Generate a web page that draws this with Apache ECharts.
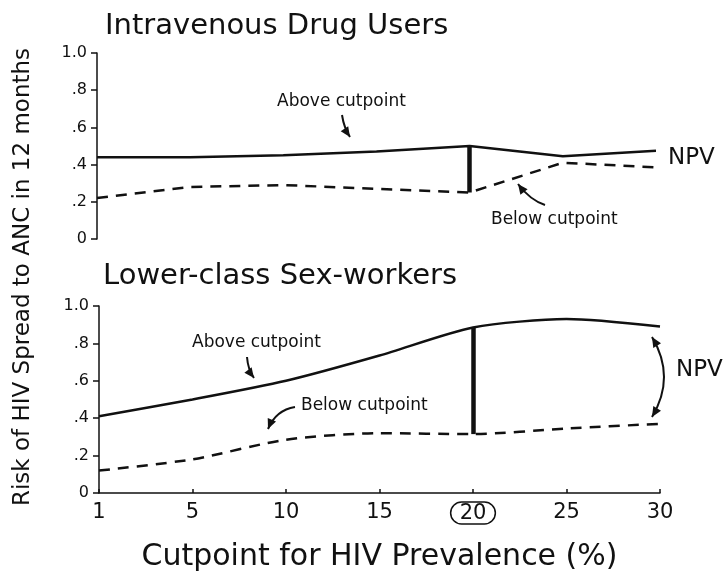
<!DOCTYPE html>
<html>
<head>
<meta charset="utf-8">
<script src="https://cdn.jsdelivr.net/npm/echarts@6/dist/echarts.min.js"></script>
<style>
  html, body { margin: 0; padding: 0; background: #fff; }
  #main { width: 727px; height: 575px; }
</style>
</head>
<body>
<div id="main"></div>
<script>
    // cutpoints for HIV prevalence (%)
    var categories = ['1', '5', '10', '15', '20', '25', '30'];
    var yTickLabels = ['0', '.2', '.4', '.6', '.8', '1.0'];
    var cutIndex = 4;

    // Intravenous Drug Users
    var iduAbove = [0.44, 0.44, 0.45, 0.47, 0.50, 0.445, 0.475];
    var iduBelow = [0.22, 0.28, 0.29, 0.27, 0.25, 0.41, 0.385];

    // Lower-class Sex-workers
    var swAbove = [0.41, 0.50, 0.60, 0.735, 0.885, 0.93, 0.89];
    var swBelow = [0.12, 0.18, 0.285, 0.32, 0.315, 0.345, 0.37];

    var FONT = '"DejaVu Sans", "Liberation Sans", Arial, sans-serif';
    var INK = '#111';

    var chart = echarts.init(document.getElementById('main'));

    function yAxisFor(gridIndex) {
        return {
            type: 'value',
            gridIndex: gridIndex,
            min: 0,
            max: 1,
            interval: 0.2,
            splitLine: {show: false},
            axisLine: {show: true, lineStyle: {color: INK, width: 1.5}},
            axisTick: {show: true, length: 6, lineStyle: {color: INK, width: 1.5}},
            axisLabel: {
                color: INK,
                fontFamily: FONT,
                fontSize: 16,
                margin: 10,
                formatter: function (v) {
                    return yTickLabels[Math.round(v / 0.2)];
                }
            }
        };
    }

    function cutBar(above, below) {
        return {
            symbol: 'none',
            silent: true,
            label: {show: false},
            lineStyle: {type: 'solid', color: INK, width: 4.5},
            data: [[
                {coord: [categories[cutIndex], above[cutIndex]]},
                {coord: [categories[cutIndex], below[cutIndex]]}
            ]]
        };
    }

    function lineSeries(data, idx, dashed, smooth, bar) {
        var s = {
            type: 'line',
            xAxisIndex: idx,
            yAxisIndex: idx,
            data: data,
            symbol: 'none',
            smooth: smooth,
            lineStyle: {color: INK, width: 2.5, type: dashed ? [11, 8] : 'solid'}
        };
        if (bar) s.markLine = bar;
        return s;
    }

    // small curved arrows for annotations
    function arrow(x1, y1, cx, cy, x2, y2, both) {
        var items = [{
            type: 'bezierCurve',
            shape: {x1: x1, y1: y1, cpx1: cx, cpy1: cy, x2: x2, y2: y2},
            style: {stroke: INK, lineWidth: 2, fill: null}
        }];
        function head(tx, ty, fx, fy) {
            var a = Math.atan2(ty - fy, tx - fx), L = 10, W = 4.5;
            var bx = tx - L * Math.cos(a), by = ty - L * Math.sin(a);
            return {
                type: 'polygon',
                shape: {points: [[tx, ty],
                    [bx + W * Math.sin(a), by - W * Math.cos(a)],
                    [bx - W * Math.sin(a), by + W * Math.cos(a)]]},
                style: {fill: INK}
            };
        }
        items.push(head(x2, y2, cx, cy));
        if (both) items.push(head(x1, y1, cx, cy));
        return items;
    }

    function label(text, x, y, size, align) {
        return {
            type: 'text',
            x: x,
            y: y,
            style: {
                text: text,
                fill: INK,
                font: size + 'px ' + FONT,
                textAlign: align || 'left',
                textVerticalAlign: 'middle'
            }
        };
    }

    var graphics = [
        label('Intravenous Drug Users', 105, 26, 29),
        label('Lower-class Sex-workers', 103, 276, 29),
        {
            type: 'text',
            x: 23,
            y: 277,
            rotation: Math.PI / 2,
            style: {
                text: 'Risk of HIV Spread to ANC in 12 months',
                fill: INK,
                font: '23px ' + FONT,
                textAlign: 'center',
                textVerticalAlign: 'middle'
            }
        },
        label('Above cutpoint', 277, 102, 17),
        label('Below cutpoint', 491, 220, 17),
        label('NPV', 668, 158, 23),
        label('Above cutpoint', 192, 343, 17),
        label('Below cutpoint', 301, 406, 17),
        label('NPV', 676, 370, 23)
    ];
    graphics = graphics
        .concat(arrow(342, 115, 344, 128, 350, 137))
        .concat(arrow(545, 205, 530, 200, 518, 184))
        .concat(arrow(247, 357, 248, 370, 254, 378))
        .concat(arrow(295, 407, 276, 410, 268, 429))
        .concat(arrow(652, 337, 676, 377, 652, 417, true));

    var option = {
        animation: false,
        backgroundColor: '#fff',
        textStyle: {fontFamily: FONT},
        grid: [
            {left: 97, right: 71, top: 53, height: 186},
            {left: 99, right: 67, top: 306, height: 187}
        ],
        xAxis: [
            {
                type: 'category',
                gridIndex: 0,
                data: categories,
                boundaryGap: false,
                axisLine: {show: false},
                axisTick: {show: false},
                axisLabel: {show: false}
            },
            {
                type: 'category',
                gridIndex: 1,
                data: categories,
                boundaryGap: false,
                axisLine: {show: true, lineStyle: {color: INK, width: 1.5}},
                axisTick: {show: true, inside: true, length: 4, interval: 0, lineStyle: {color: INK, width: 1.5}},
                axisLabel: {
                    interval: 0,
                    hideOverlap: false,
                    color: INK,
                    fontFamily: FONT,
                    fontSize: 21,
                    margin: 9,
                    formatter: function (v) {
                        return v === categories[cutIndex] ? '{c|' + v + '}' : v;
                    },
                    rich: {
                        c: {
                            color: INK,
                            fontFamily: FONT,
                            fontSize: 21,
                            borderColor: INK,
                            borderWidth: 1.5,
                            borderRadius: 12,
                            padding: [1, 9, 0, 9]
                        }
                    }
                },
                name: 'Cutpoint for HIV Prevalence (%)',
                nameLocation: 'middle',
                nameGap: 49,
                nameTextStyle: {color: INK, fontFamily: FONT, fontSize: 30}
            }
        ],
        yAxis: [yAxisFor(0), yAxisFor(1)],
        series: [
            lineSeries(iduAbove, 0, false, false, cutBar(iduAbove, iduBelow)),
            lineSeries(iduBelow, 0, true, false),
            lineSeries(swAbove, 1, false, 0.25, cutBar(swAbove, swBelow)),
            lineSeries(swBelow, 1, true, 0.25)
        ],
        graphic: graphics
    };

    chart.setOption(option);
</script>
</body>
</html>
